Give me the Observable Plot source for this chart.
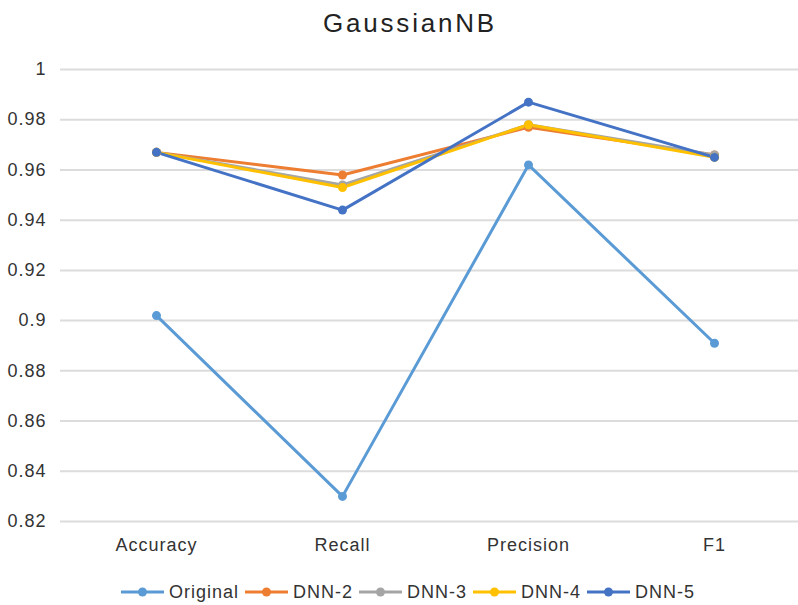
<!DOCTYPE html>
<html><head><meta charset="utf-8">
<script src="https://cdn.jsdelivr.net/npm/d3@7"></script>
<script src="https://cdn.jsdelivr.net/npm/@observablehq/plot@0.6"></script>
<style>
body{margin:0;background:#fff;font-family:"Liberation Sans",Arial,sans-serif;width:798px;height:605px;overflow:hidden;position:relative}
#title{position:absolute;top:0;left:0;width:798px;height:50px;line-height:46px;text-align:center;font-size:26px;letter-spacing:2.8px;color:#222;padding-left:22px;box-sizing:border-box}
#chart{position:absolute;top:50px;left:0}
#legend{position:absolute;top:581px;left:0;width:798px;display:flex;justify-content:center;align-items:center;padding-left:24px;box-sizing:border-box;font-size:18px;letter-spacing:1px;color:#333;line-height:22px}
.item{display:flex;align-items:center;margin-right:6px}
.item svg{margin-right:5px}
</style></head>
<body>
<div id="title">GaussianNB</div>
<div id="chart"></div>
<div id="legend"></div>
<script>
const categories = ["Accuracy", "Recall", "Precision", "F1"];
const seriesNames = ["Original", "DNN-2", "DNN-3", "DNN-4", "DNN-5"];
const original = [0.902, 0.830, 0.962, 0.891];
const dnn2 = [0.967, 0.958, 0.977, 0.966];
const dnn3 = [0.967, 0.954, 0.978, 0.966];
const dnn4 = [0.967, 0.953, 0.978, 0.965];
const dnn5 = [0.967, 0.944, 0.987, 0.965];
const colors = ["#5B9BD5", "#ED7D31", "#A5A5A5", "#FFC000", "#4472C4"];
const yTicks = [0.82, 0.84, 0.86, 0.88, 0.9, 0.92, 0.94, 0.96, 0.98, 1];

const seriesValues = [original, dnn2, dnn3, dnn4, dnn5];
const rows = [];
seriesNames.forEach((s, i) => categories.forEach((c, j) => rows.push({series: s, cat: c, value: seriesValues[i][j]})));

const chart = Plot.plot({
  width: 798, height: 515,
  marginTop: 19, marginBottom: 44, marginLeft: 60, marginRight: 0,
  style: {fontFamily: "'Liberation Sans', Arial, sans-serif", letterSpacing: "1px", background: "#fff"},
  x: {type: "point", domain: categories, range: [155, 714], padding: 0},
  y: {domain: [0.82, 1]},
  color: {domain: seriesNames, range: colors},
  marks: [
    Plot.ruleY(yTicks, {stroke: "#dcdcdc", strokeWidth: 2}),
    Plot.axisY(yTicks, {tickSize: 0, tickPadding: 14, fontSize: 18, fill: "#333", tickFormat: d => String(+d.toFixed(2)), label: null}),
    Plot.axisX(categories, {tickSize: 0, tickPadding: 17, fontSize: 18, fill: "#333", label: null}),
    Plot.line(rows, {x: "cat", y: "value", z: "series", stroke: "series", strokeWidth: 3}),
    Plot.dot(rows, {x: "cat", y: "value", fill: "series", r: 4.5})
  ]
});
document.getElementById("chart").appendChild(chart);

const legend = document.getElementById("legend");
seriesNames.forEach((s, i) => {
  const item = document.createElement("div");
  item.className = "item";
  item.innerHTML = `<svg width="43" height="12"><line x1="0" y1="6" x2="43" y2="6" stroke="${colors[i]}" stroke-width="3"/><circle cx="21.5" cy="6" r="4.5" fill="${colors[i]}"/></svg><span>${s}</span>`;
  legend.appendChild(item);
});
</script>
</body></html>
